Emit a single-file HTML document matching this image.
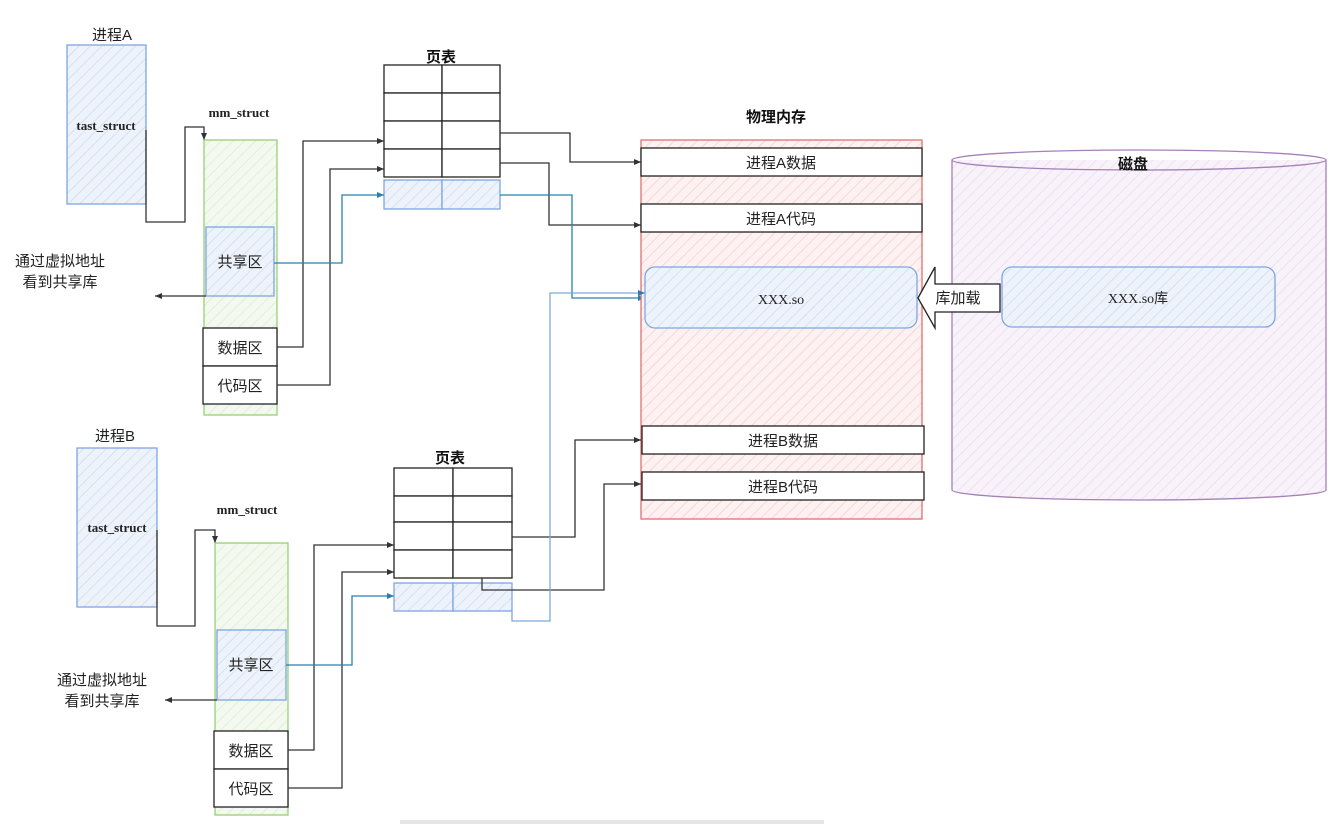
<!DOCTYPE html>
<html><head><meta charset="utf-8"><style>
html,body{margin:0;padding:0;background:#fff;}
svg{display:block;font-family:"Liberation Serif","Noto Sans CJK SC",serif;}
.cj{font-family:"Liberation Sans","Noto Sans CJK SC",sans-serif;}
</style></head><body>
<svg width="1334" height="824" viewBox="0 0 1334 824" xmlns="http://www.w3.org/2000/svg">
<defs>
<pattern id="hb" width="8" height="8" patternUnits="userSpaceOnUse" patternTransform="rotate(45)"><rect width="8" height="8" fill="#eef3fb"/><line x1="0" y1="0" x2="0" y2="8" stroke="#cddbf0" stroke-width="1.5"/></pattern>
<pattern id="hg" width="8" height="8" patternUnits="userSpaceOnUse" patternTransform="rotate(45)"><rect width="8" height="8" fill="#f3f9ef"/><line x1="0" y1="0" x2="0" y2="8" stroke="#dcecd2" stroke-width="1.5"/></pattern>
<pattern id="hr" width="8" height="8" patternUnits="userSpaceOnUse" patternTransform="rotate(45)"><rect width="8" height="8" fill="#fdf1f1"/><line x1="0" y1="0" x2="0" y2="8" stroke="#f6cfcf" stroke-width="1.5"/></pattern>
<pattern id="hp" width="8" height="8" patternUnits="userSpaceOnUse" patternTransform="rotate(45)"><rect width="8" height="8" fill="#f8f3fa"/><line x1="0" y1="0" x2="0" y2="8" stroke="#e8dcef" stroke-width="1.5"/></pattern>
<marker id="ak" markerWidth="8" markerHeight="8" refX="7" refY="4" orient="auto" markerUnits="userSpaceOnUse"><path d="M0,1 L7,4 L0,7 Z" fill="#333"/></marker>
<marker id="ab" markerWidth="8" markerHeight="8" refX="7" refY="4" orient="auto" markerUnits="userSpaceOnUse"><path d="M0,1 L7,4 L0,7 Z" fill="#2a7fb0"/></marker>
</defs>
<g fill="none" stroke-width="1.3">
<text x="112" y="40" text-anchor="middle" font-size="15" class="cj" fill="#222" stroke="none">进程A</text>
<rect x="67" y="45" width="79" height="159" fill="url(#hb)" stroke="#7ea6e0"/>
<text x="106" y="130" text-anchor="middle" font-size="13" font-weight="bold" fill="#222" stroke="none">tast_struct</text>
<path d="M146,130 V222 H185 V127 H204 V140" stroke="#333" marker-end="url(#ak)"/>
<text x="239" y="117" text-anchor="middle" font-size="13" font-weight="bold" fill="#222" stroke="none">mm_struct</text>
<rect x="204" y="140" width="73" height="275" fill="url(#hg)" stroke="#97d077"/>
<rect x="206" y="227" width="68" height="69" fill="url(#hb)" stroke="#7ea6e0"/>
<text x="240" y="267" text-anchor="middle" font-size="15" class="cj" fill="#222" stroke="none">共享区</text>
<rect x="203" y="328" width="74" height="38" fill="#fff" stroke="#222"/>
<text x="240" y="353" text-anchor="middle" font-size="15" class="cj" fill="#222" stroke="none">数据区</text>
<rect x="203" y="366" width="74" height="38" fill="#fff" stroke="#222"/>
<text x="240" y="391" text-anchor="middle" font-size="15" class="cj" fill="#222" stroke="none">代码区</text>
<path d="M206,296 H155" stroke="#333" marker-end="url(#ak)"/>
<text x="60" y="266" text-anchor="middle" font-size="15" class="cj" fill="#222" stroke="none">通过虚拟地址</text>
<text x="60" y="287" text-anchor="middle" font-size="15" class="cj" fill="#222" stroke="none">看到共享库</text>
<text x="441" y="62" text-anchor="middle" font-size="15" font-weight="bold" class="cj" fill="#111" stroke="none">页表</text>
<g stroke="#222" fill="#fff">
<rect x="384" y="65" width="58" height="28"/><rect x="442" y="65" width="58" height="28"/>
<rect x="384" y="93" width="58" height="28"/><rect x="442" y="93" width="58" height="28"/>
<rect x="384" y="121" width="58" height="28"/><rect x="442" y="121" width="58" height="28"/>
<rect x="384" y="149" width="58" height="28"/><rect x="442" y="149" width="58" height="28"/>
</g>
<rect x="384" y="180" width="58" height="29" fill="url(#hb)" stroke="#7ea6e0"/><rect x="442" y="180" width="58" height="29" fill="url(#hb)" stroke="#7ea6e0"/>
<path d="M277,347 H303 V141 H384" stroke="#333" marker-end="url(#ak)"/>
<path d="M277,385 H330 V169 H384" stroke="#333" marker-end="url(#ak)"/>
<path d="M274,263 H342 V195 H384" stroke="#2a7fb0" marker-end="url(#ab)"/>
<path d="M500,133 H570 V162 H641" stroke="#333" marker-end="url(#ak)"/>
<path d="M500,163 H549 V225 H641" stroke="#333" marker-end="url(#ak)"/>
<path d="M500,195 H572 V298 H645" stroke="#2a7fb0" marker-end="url(#ab)"/>
<text x="776" y="122" text-anchor="middle" font-size="15" font-weight="bold" class="cj" fill="#111" stroke="none">物理内存</text>
<rect x="641" y="140" width="281" height="379" fill="url(#hr)" stroke="#e07070"/>
<rect x="641" y="148" width="281" height="28" fill="#fff" stroke="#222"/>
<text x="781" y="168" text-anchor="middle" font-size="15" class="cj" fill="#222" stroke="none">进程A数据</text>
<rect x="641" y="204" width="281" height="28" fill="#fff" stroke="#222"/>
<text x="781" y="224" text-anchor="middle" font-size="15" class="cj" fill="#222" stroke="none">进程A代码</text>
<rect x="645" y="267" width="272" height="61" rx="10" fill="url(#hb)" stroke="#7ea6e0"/>
<text x="781" y="304" text-anchor="middle" font-size="14" fill="#222" stroke="none">XXX.so</text>
<rect x="642" y="426" width="282" height="28" fill="#fff" stroke="#222"/>
<text x="783" y="446" text-anchor="middle" font-size="15" class="cj" fill="#222" stroke="none">进程B数据</text>
<rect x="642" y="472" width="282" height="28" fill="#fff" stroke="#222"/>
<text x="783" y="492" text-anchor="middle" font-size="15" class="cj" fill="#222" stroke="none">进程B代码</text>
<path d="M952,160 V490 A187,10 0 0 0 1326,490 V160" fill="url(#hp)" stroke="#a680b8"/>
<ellipse cx="1139" cy="160" rx="187" ry="10" fill="none" stroke="#a680b8"/>
<text x="1133" y="169" text-anchor="middle" font-size="15" font-weight="bold" class="cj" fill="#111" stroke="none">磁盘</text>
<rect x="1002" y="267" width="273" height="60" rx="10" fill="url(#hb)" stroke="#7ea6e0"/>
<text x="1138" y="303" text-anchor="middle" font-size="14" fill="#222" stroke="none">XXX.so<tspan class="cj">库</tspan></text>
<path d="M918,298 L935,267 V284 H1000 V312 H935 V328 Z" fill="#fff" stroke="#222"/>
<text x="958" y="303" text-anchor="middle" font-size="15" class="cj" fill="#222" stroke="none">库加载</text>
<text x="115" y="441" text-anchor="middle" font-size="15" class="cj" fill="#222" stroke="none">进程B</text>
<rect x="77" y="448" width="80" height="159" fill="url(#hb)" stroke="#7ea6e0"/>
<text x="117" y="532" text-anchor="middle" font-size="13" font-weight="bold" fill="#222" stroke="none">tast_struct</text>
<path d="M157,530 V626 H195 V530 H215 V543" stroke="#333" marker-end="url(#ak)"/>
<text x="247" y="514" text-anchor="middle" font-size="13" font-weight="bold" fill="#222" stroke="none">mm_struct</text>
<rect x="215" y="543" width="73" height="272" fill="url(#hg)" stroke="#97d077"/>
<rect x="217" y="630" width="69" height="70" fill="url(#hb)" stroke="#7ea6e0"/>
<text x="251" y="670" text-anchor="middle" font-size="15" class="cj" fill="#222" stroke="none">共享区</text>
<rect x="214" y="731" width="74" height="38" fill="#fff" stroke="#222"/>
<text x="251" y="756" text-anchor="middle" font-size="15" class="cj" fill="#222" stroke="none">数据区</text>
<rect x="214" y="769" width="74" height="38" fill="#fff" stroke="#222"/>
<text x="251" y="794" text-anchor="middle" font-size="15" class="cj" fill="#222" stroke="none">代码区</text>
<path d="M217,700 H165" stroke="#333" marker-end="url(#ak)"/>
<text x="102" y="685" text-anchor="middle" font-size="15" class="cj" fill="#222" stroke="none">通过虚拟地址</text>
<text x="102" y="706" text-anchor="middle" font-size="15" class="cj" fill="#222" stroke="none">看到共享库</text>
<text x="450" y="463" text-anchor="middle" font-size="15" font-weight="bold" class="cj" fill="#111" stroke="none">页表</text>
<g stroke="#222" fill="#fff">
<rect x="394" y="468" width="59" height="28"/><rect x="453" y="468" width="59" height="28"/>
<rect x="394" y="496" width="59" height="26"/><rect x="453" y="496" width="59" height="26"/>
<rect x="394" y="522" width="59" height="28"/><rect x="453" y="522" width="59" height="28"/>
<rect x="394" y="550" width="59" height="28"/><rect x="453" y="550" width="59" height="28"/>
</g>
<rect x="394" y="583" width="59" height="28" fill="url(#hb)" stroke="#7ea6e0"/><rect x="453" y="583" width="59" height="28" fill="url(#hb)" stroke="#7ea6e0"/>
<path d="M288,750 H314 V545 H394" stroke="#333" marker-end="url(#ak)"/>
<path d="M288,788 H342 V572 H394" stroke="#333" marker-end="url(#ak)"/>
<path d="M286,665 H352 V596 H394" stroke="#2a7fb0" marker-end="url(#ab)"/>
<path d="M512,537 H575 V440 H641" stroke="#333" marker-end="url(#ak)"/>
<path d="M482,578 V590 H604 V484 H641" stroke="#333" marker-end="url(#ak)"/>
<path d="M512,611 V621 H550 V293 H645" stroke="#7ea6e0" marker-end="url(#ab)"/>
</g>
<rect x="400" y="820" width="424" height="4" fill="#e6e6e6"/>
</svg>
</body></html>
